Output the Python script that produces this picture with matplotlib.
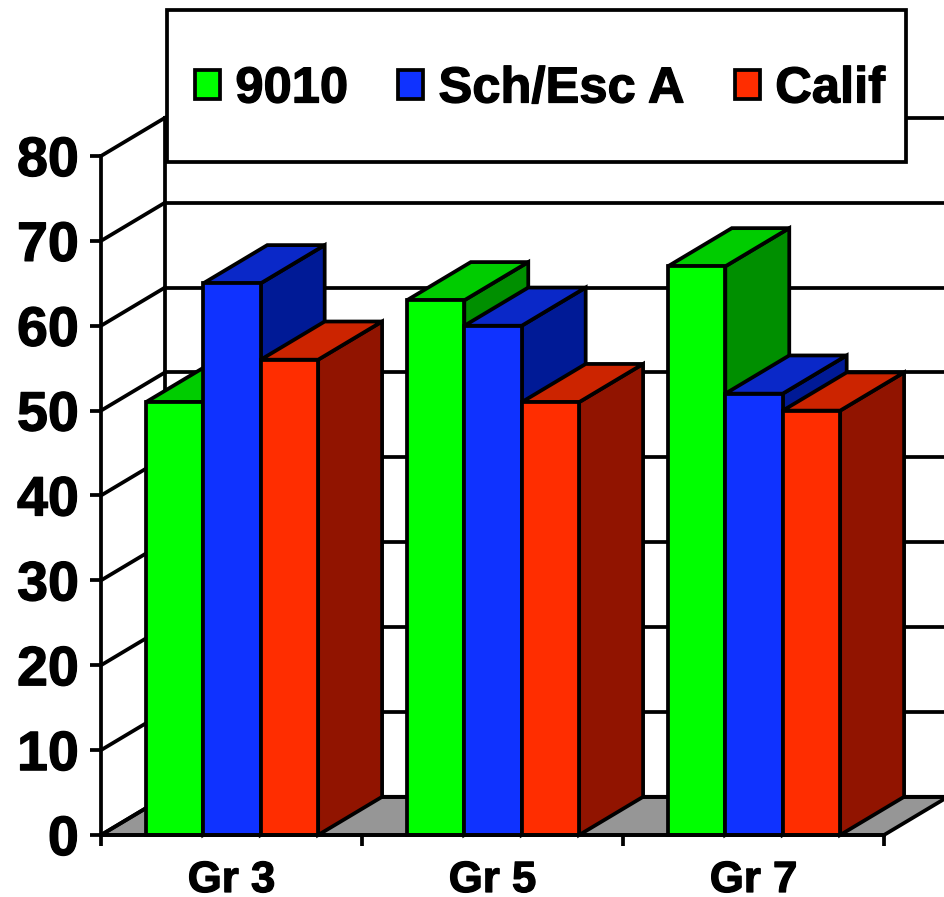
import matplotlib
matplotlib.use('Agg')
from matplotlib import pyplot as plt
from matplotlib import patheffects
from matplotlib.patches import Patch, Polygon, Rectangle

plt.rcParams['font.family'] = ['Liberation Sans', 'DejaVu Sans']
plt.rcParams['font.weight'] = 'bold'

# values
categories = ['Gr 3', 'Gr 5', 'Gr 7']
series_names = ['9010', 'Sch/Esc A', 'Calif']
values_9010 = [51, 63, 67]
values_sch = [65, 60, 52]
values_calif = [56, 51, 50]
y_ticks = [0, 10, 20, 30, 40, 50, 60, 70, 80]

# front, top, side colours of each series
green = ['#00FF00', '#00CC00', '#008F00']
blue = ['#0F32FF', '#0A28C8', '#001A96']
red = ['#FF2D00', '#CC2400', '#911400']

W, H = 945, 897
LW = 2.7
DEPTH_X = 0.245  # 3d offset, in category units
DEPTH_Y = 4.5    # 3d offset, in value units
BAR_W = 0.22
BAR_START = 0.172

fig = plt.figure(figsize=(W / 100, H / 100), dpi=100)
ax = fig.add_axes([101 / W, (H - 835) / H, (884 - 101) / W, (835 - 156) / H])
ax.set_xlim(0, 3)
ax.set_ylim(0, 80)
ax.spines['top'].set_visible(False)
ax.spines['right'].set_visible(False)
ax.spines['left'].set_linewidth(LW)
ax.spines['bottom'].set_linewidth(LW)
ax.spines['left'].set_zorder(1)
ax.spines['bottom'].set_zorder(20)
ax.patch.set_visible(False)


def draw_bar(x, value, colors):
    dx, dy = DEPTH_X, DEPTH_Y
    side = [(x + BAR_W, 0), (x + BAR_W + dx, dy), (x + BAR_W + dx, value + dy), (x + BAR_W, value)]
    top = [(x, value), (x + dx, value + dy), (x + BAR_W + dx, value + dy), (x + BAR_W, value)]
    front = [(x, 0), (x + BAR_W, 0), (x + BAR_W, value), (x, value)]
    for pts, c in [(side, colors[2]), (top, colors[1]), (front, colors[0])]:
        ax.add_patch(Polygon(pts, closed=True, facecolor=c, edgecolor='black', linewidth=LW,
                             joinstyle='miter', clip_on=False, zorder=5))


# back wall and floor
right_end = 3 + DEPTH_X
ax.add_patch(Polygon([(0, 0), (DEPTH_X, DEPTH_Y), (right_end, DEPTH_Y), (3, 0)], closed=True,
                     facecolor='#969696', edgecolor='black', linewidth=LW, clip_on=False, zorder=2))
ax.plot([DEPTH_X, DEPTH_X], [DEPTH_Y, 80 + DEPTH_Y], color='black', lw=LW, clip_on=False, zorder=2)
for t in y_ticks:
    ax.plot([0, DEPTH_X], [t, t + DEPTH_Y], color='black', lw=LW, clip_on=False, zorder=2)
    ax.plot([DEPTH_X, right_end], [t + DEPTH_Y, t + DEPTH_Y], color='black', lw=LW, clip_on=False, zorder=2)

# bars
for i in range(len(categories)):
    for j, (vals, colors) in enumerate([(values_9010, green), (values_sch, blue), (values_calif, red)]):
        draw_bar(i + BAR_START + j * BAR_W, vals[i], colors)

# axes ticks and labels
ax.set_yticks(y_ticks)
ax.tick_params(axis='y', length=8, width=LW, pad=8, labelsize=40)
ax.set_xticks(range(len(categories) + 1))
ax.set_xticklabels([])
ax.set_xticks([i + 0.5 for i in range(len(categories))], labels=categories, minor=True)
ax.tick_params(axis='x', which='major', length=8, width=LW)
ax.tick_params(axis='x', which='minor', length=0, pad=18, labelsize=31.5)

# the reference text is heavier than Liberation bold
heavy = [patheffects.withStroke(linewidth=0.9, foreground='black')]
for lab in ax.get_yticklabels() + ax.get_xticklabels(minor=True):
    lab.set_path_effects(heavy)

# legend box sits on top of the wall
fig.add_artist(Rectangle((167 / W, (H - 162) / H), (906 - 167) / W, (162 - 10) / H,
                         transform=fig.transFigure, facecolor='white', edgecolor='black',
                         linewidth=LW, zorder=10))
handles = [Patch(facecolor=c[0], edgecolor='black', linewidth=LW) for c in [green, blue, red]]
leg = fig.legend(handles, series_names, ncol=3, loc='center', frameon=False,
                 bbox_to_anchor=(540 / W, (H - 89) / H), bbox_transform=fig.transFigure,
                 fontsize=36.5, handlelength=0.5, handleheight=0.5, handletextpad=0.3,
                 columnspacing=0.98, borderpad=0, borderaxespad=0)
leg.set_zorder(11)
for txt in leg.get_texts():
    txt.set_path_effects(heavy)

fig.savefig('out.png', dpi=100)
